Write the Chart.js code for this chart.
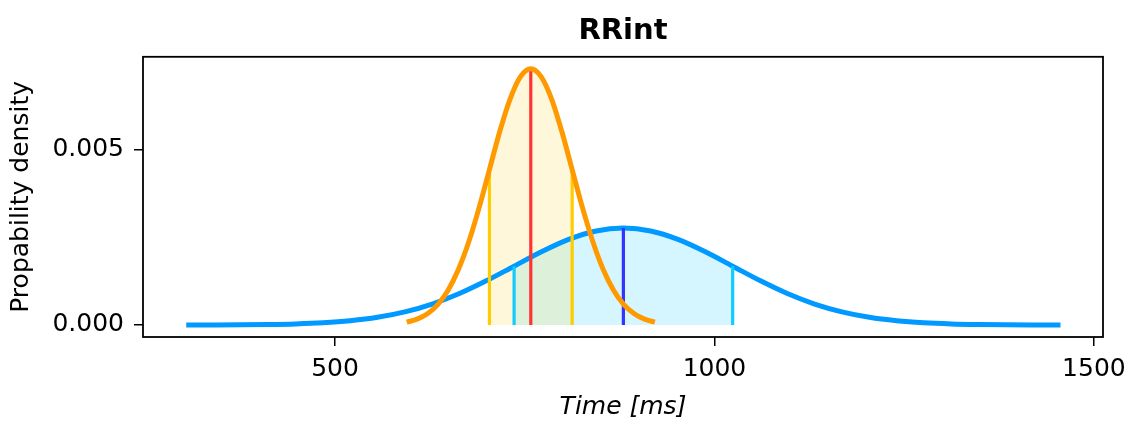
<!DOCTYPE html>
<html>
<head>
<meta charset="utf-8">
<script src="https://cdn.jsdelivr.net/npm/chart.js@4.4.1/dist/chart.umd.min.js"></script>
<style>
  html, body { margin: 0; padding: 0; background: #fff; }
  #wrap { width: 1132px; height: 423px; }
</style>
</head>
<body>
<div id="wrap"><canvas id="rrChart" width="1132" height="423"></canvas></div>
<script>
// values (ms, density)
const blueX = [304, 340, 376, 412, 448, 484, 520, 556, 592, 628, 664, 700, 736, 772, 808, 844, 880,
  916, 952, 988, 1024, 1060, 1096, 1132, 1168, 1204, 1240, 1276, 1312, 1348, 1384, 1420, 1456];
const blueY = [0.0000009, 0.0000025, 0.0000061, 0.0000141, 0.0000308, 0.0000632, 0.000122, 0.000220,
  0.000375, 0.000599, 0.000899, 0.001268, 0.001680, 0.002091, 0.002445, 0.002685, 0.002770,
  0.002685, 0.002445, 0.002091, 0.001680, 0.001268, 0.000899, 0.000599, 0.000375,
  0.000220, 0.000122, 0.0000632, 0.0000308, 0.0000141, 0.0000061, 0.0000025, 0.0000009];

const orangeX = [594.5, 608.1, 621.8, 635.4, 649, 662.6, 676.3, 689.9, 703.5, 717.1, 730.8, 744.4, 758,
  771.6, 785.3, 798.9, 812.5, 826.1, 839.8, 853.4, 867, 880.6, 894.3, 907.9, 921.5];
const orangeY = [0.0000813, 0.000167, 0.000322, 0.000582, 0.000991, 0.001583, 0.002376, 0.003351,
  0.004440, 0.005525, 0.006460, 0.007095, 0.007320, 0.007095, 0.006460, 0.005525, 0.004440,
  0.003351, 0.002376, 0.001583, 0.000991, 0.000582, 0.000322, 0.000167, 0.0000813];

// index of mean - sd, mean, mean + sd in each series
const blueMarks = [12, 16, 20];
const orangeMarks = [8, 12, 16];

const xTicks = [500, 1000, 1500];
const yTicks = [0, 0.005];

const FONT = "'DejaVu Sans', 'Liberation Sans', sans-serif";

function pts(xs, ys, from, to) {
  const out = [];
  for (let i = from; i <= to; i++) out.push({ x: xs[i], y: ys[i] });
  return out;
}

function vline(xs, ys, i, color, order) {
  return {
    data: [{ x: xs[i], y: 0 }, { x: xs[i], y: ys[i] }],
    borderColor: color,
    borderWidth: 3.2,
    pointRadius: 0,
    fill: false,
    order: order,
  };
}

// black box round the plot area
const frame = {
  id: "frame",
  afterDraw(chart) {
    const a = chart.chartArea;
    const c = chart.ctx;
    c.save();
    c.strokeStyle = "#000";
    c.lineWidth = 1.8;
    c.strokeRect(a.left, a.top, a.right - a.left, a.bottom - a.top);
    c.restore();
  },
};

const ctx = document.getElementById("rrChart").getContext("2d");

new Chart(ctx, {
  type: "line",
  data: {
    datasets: [
      // filled +-1 sd areas
      {
        data: pts(blueX, blueY, blueMarks[0], blueMarks[2]),
        borderWidth: 0,
        pointRadius: 0,
        backgroundColor: "rgba(0, 200, 255, 0.16)",
        fill: "origin",
        cubicInterpolationMode: "monotone",
        order: 10,
      },
      {
        data: pts(orangeX, orangeY, orangeMarks[0], orangeMarks[2]),
        borderWidth: 0,
        pointRadius: 0,
        backgroundColor: "rgba(255, 204, 0, 0.15)",
        fill: "origin",
        cubicInterpolationMode: "monotone",
        order: 9,
      },
      // blue curve
      {
        data: pts(blueX, blueY, 0, blueX.length - 1),
        borderColor: "#0099ff",
        borderWidth: 5,
        pointRadius: 0,
        fill: false,
        cubicInterpolationMode: "monotone",
        order: 8,
      },
      vline(blueX, blueY, blueMarks[0], "#11ccff", 7),
      vline(blueX, blueY, blueMarks[2], "#11ccff", 7),
      vline(blueX, blueY, blueMarks[1], "#3333ff", 6),
      vline(orangeX, orangeY, orangeMarks[0], "#ffcc00", 5),
      vline(orangeX, orangeY, orangeMarks[2], "#ffcc00", 5),
      vline(orangeX, orangeY, orangeMarks[1], "#ff3333", 4),
      // orange curve
      {
        data: pts(orangeX, orangeY, 0, orangeX.length - 1),
        borderColor: "#ff9900",
        borderWidth: 5,
        pointRadius: 0,
        fill: false,
        cubicInterpolationMode: "monotone",
        order: 3,
      },
    ],
  },
  options: {
    responsive: false,
    animation: false,
    layout: { padding: { left: 0, right: 29, top: 0, bottom: 0 } },
    plugins: {
      legend: { display: false },
      tooltip: { enabled: false },
      title: {
        display: true,
        fullSize: false,
        text: "RRint",
        color: "#000",
        font: { family: FONT, size: 29, weight: "bold" },
        padding: { top: 14, bottom: 8 },
      },
    },
    scales: {
      x: {
        type: "linear",
        min: 247,
        max: 1512,
        afterBuildTicks: (s) => { s.ticks = xTicks.map((v) => ({ value: v })); },
        afterFit: (s) => { s.height = 86; s.paddingLeft = 0; s.paddingRight = 0; },
        ticks: {
          color: "#000",
          font: { family: FONT, size: 25 },
          padding: 8,
          maxRotation: 0,
          callback: (v) => String(v),
        },
        grid: { drawOnChartArea: false, drawTicks: true, tickLength: 9, color: "#000", lineWidth: 1.5 },
        border: { display: false },
        title: {
          display: true,
          text: "Time [ms]",
          color: "#000",
          font: { family: FONT, size: 25, style: "italic" },
          padding: { top: 0, bottom: 1 },
        },
      },
      y: {
        type: "linear",
        min: -0.000343,
        max: 0.00766,
        afterBuildTicks: (s) => { s.ticks = yTicks.map((v) => ({ value: v })); },
        afterFit: (s) => { s.width = 143; s.paddingTop = 0; s.paddingBottom = 0; },
        ticks: {
          color: "#000",
          font: { family: FONT, size: 25 },
          padding: 10,
          callback: (v) => v.toFixed(3),
        },
        grid: { drawOnChartArea: false, drawTicks: true, tickLength: 9, color: "#000", lineWidth: 1.5 },
        border: { display: false },
        title: {
          display: true,
          text: "Propability density",
          color: "#000",
          font: { family: FONT, size: 25 },
          padding: { top: 6, bottom: 0 },
        },
      },
    },
  },
  plugins: [frame],
});
</script>
</body>
</html>
